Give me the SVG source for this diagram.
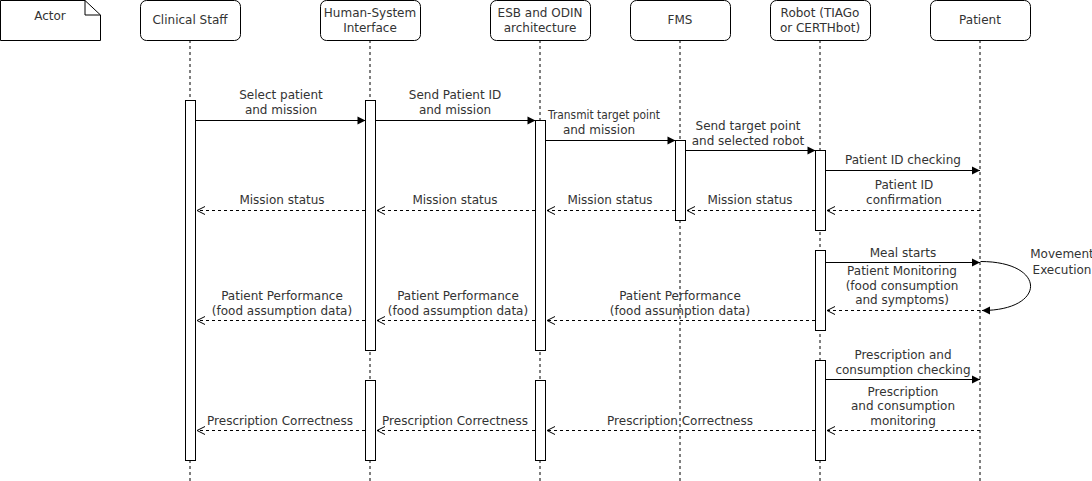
<svg xmlns="http://www.w3.org/2000/svg" width="1092" height="481" viewBox="0 0 1092 481">
<style>
text{font-family:"DejaVu Sans","Liberation Sans",sans-serif;font-size:12px;fill:#333;text-anchor:middle}
.box{fill:#fff;stroke:#000;stroke-width:1}
.life{stroke:#000;stroke-width:1;stroke-dasharray:3 3;fill:none}
.act{fill:#fff;stroke:#000;stroke-width:1}
.msg{stroke:#000;stroke-width:1;fill:none;marker-end:url(#fill)}
.ret{stroke:#000;stroke-width:1;stroke-dasharray:3 3;fill:none;marker-end:url(#open)}
</style>
<defs>
<marker id="fill" markerUnits="userSpaceOnUse" markerWidth="10" markerHeight="10" viewBox="0 0 10 10" refX="9" refY="5" orient="auto"><path d="M1,1 L9,5 L1,9 Z" fill="#000"/></marker>
<marker id="open" markerUnits="userSpaceOnUse" markerWidth="12" markerHeight="12" viewBox="0 0 12 12" refX="10" refY="6" orient="auto"><path d="M2,2 L10,6 L2,10" fill="none" stroke="#000" stroke-width="1"/></marker>
</defs>
<rect width="1092" height="481" fill="#fff"/>
<g id="lifelines">
<path class="life" d="M190,40V481M370,40V481M540,40V481M680,40V481M820,40V481M980,40V481"/>
</g>
<g id="actor"><path class="box" d="M0.5,0.5H85L100.5,15V40.5H0.5Z"/><path d="M85,0.5V15H100.5" fill="none" stroke="#000"/><text x="50" y="20">Actor</text></g>
<g id="clinical-staff"><rect class="box" x="140.5" y="0.5" width="100" height="40" rx="6"/><text x="190" y="24">Clinical Staff</text></g>
<g id="hsi"><rect class="box" x="320.5" y="0.5" width="100" height="40" rx="6"/><text x="370" y="17">Human-System</text><text x="370" y="32">Interface</text></g>
<g id="esb"><rect class="box" x="490.5" y="0.5" width="100" height="40" rx="6"/><text x="540" y="17">ESB and ODIN</text><text x="540" y="32">architecture</text></g>
<g id="fms"><rect class="box" x="630.5" y="0.5" width="100" height="40" rx="6"/><text x="680" y="24">FMS</text></g>
<g id="robot"><rect class="box" x="770.5" y="0.5" width="100" height="40" rx="6"/><text x="820" y="17">Robot (TIAGo</text><text x="820" y="32">or CERTHbot)</text></g>
<g id="patient"><rect class="box" x="930.5" y="0.5" width="100" height="40" rx="6"/><text x="980" y="24">Patient</text></g>
<g id="activations">
<rect class="act" x="185.5" y="100.5" width="10" height="360"/>
<rect class="act" x="365.5" y="100.5" width="10" height="250"/>
<rect class="act" x="365.5" y="380.5" width="10" height="80"/>
<rect class="act" x="535.5" y="120.5" width="10" height="230"/>
<rect class="act" x="535.5" y="380.5" width="10" height="80"/>
<rect class="act" x="675.5" y="140.5" width="10" height="80"/>
<rect class="act" x="815.5" y="150.5" width="10" height="80"/>
<rect class="act" x="815.5" y="250.5" width="10" height="80"/>
<rect class="act" x="815.5" y="360.5" width="10" height="100"/>
</g>
<g id="connectors">
<path class="msg" d="M195.5,120.5H365.5"/>
<path class="msg" d="M375.5,120.5H535.5"/>
<path class="msg" d="M545.5,140.5H675.5"/>
<path class="msg" d="M685.5,150.5H815.5"/>
<path class="msg" d="M825.5,170.5H980"/>
<path class="ret" d="M980,210.5H827"/>
<path class="ret" d="M815,210.5H687"/>
<path class="ret" d="M675,210.5H547"/>
<path class="ret" d="M535,210.5H377"/>
<path class="ret" d="M365,210.5H197"/>
<path class="msg" d="M825.5,262.5H980"/>
<path class="msg" d="M980.5,261.5C1047,261.5 1047,310.5 982,310.5"/>
<path class="ret" d="M980,310.5H827"/>
<path class="ret" d="M815,320.5H547"/>
<path class="ret" d="M535,320.5H377"/>
<path class="ret" d="M365,320.5H197"/>
<path class="msg" d="M825.5,379.5H980"/>
<path class="ret" d="M980,430.5H827"/>
<path class="ret" d="M815,430.5H547"/>
<path class="ret" d="M535,430.5H377"/>
<path class="ret" d="M365,430.5H197"/>
</g>
<g id="labels">
<text x="281" y="99">Select patient</text><text x="281" y="114">and mission</text>
<text x="455" y="99">Send Patient ID</text><text x="455" y="114">and mission</text>
<text x="604" y="119" textLength="112" lengthAdjust="spacingAndGlyphs">Transmit target point</text><text x="599" y="134">and mission</text>
<text x="748" y="130">Send target point</text><text x="748" y="145">and selected robot</text>
<text x="903" y="164">Patient ID checking</text>
<text x="904" y="189">Patient ID</text><text x="904" y="204">confirmation</text>
<text x="750" y="204">Mission status</text>
<text x="610" y="204">Mission status</text>
<text x="455" y="204">Mission status</text>
<text x="282" y="204">Mission status</text>
<text x="903" y="257">Meal starts</text>
<text x="902" y="275">Patient Monitoring</text><text x="902" y="290">(food consumption</text><text x="902" y="304">and symptoms)</text>
<text x="1062" y="258">Movement</text><text x="1062" y="274">Execution</text>
<text x="680" y="300">Patient Performance</text><text x="680" y="315">(food assumption data)</text>
<text x="458" y="300">Patient Performance</text><text x="458" y="315">(food assumption data)</text>
<text x="282" y="300">Patient Performance</text><text x="282" y="315">(food assumption data)</text>
<text x="903" y="359">Prescription and</text><text x="903" y="374">consumption checking</text>
<text x="903" y="396">Prescription</text><text x="903" y="410">and consumption</text><text x="903" y="425">monitoring</text>
<text x="680" y="425">Prescription Correctness</text>
<text x="455" y="425">Prescription Correctness</text>
<text x="280" y="425">Prescription Correctness</text>
</g>
</svg>
